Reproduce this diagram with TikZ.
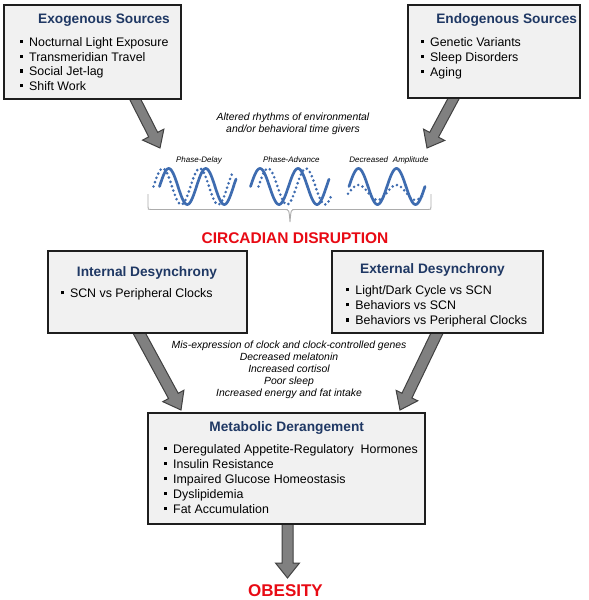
\documentclass[tikz,border=0pt]{standalone}
\usepackage{fontspec}
\setmainfont{Liberation Sans}
\usetikzlibrary{calc}
\definecolor{ttlblue}{RGB}{31,56,100}
\definecolor{redtxt}{RGB}{232,10,20}
\definecolor{wavec}{RGB}{62,108,176}
\definecolor{boxfill}{RGB}{241,241,241}
\definecolor{boxline}{RGB}{30,30,30}
\definecolor{arrfill}{RGB}{128,128,128}
\definecolor{arrline}{RGB}{64,64,64}
\newcommand\bul{\rule[3.3pt]{3.2pt}{3.2pt}\hspace{6.3pt}}
\newcommand\blockarr[5]{%
  \coordinate (ba-h) at ($(#2)!#5!(#1)$);
  \draw[arrowbody] ($(#1)!#3!90:(#2)$) -- ($(ba-h)!#3!90:(#2)$) -- ($(ba-h)!#4!90:(#2)$) -- (#2)
     -- ($(ba-h)!#4!-90:(#2)$) -- ($(ba-h)!#3!-90:(#2)$) -- ($(#1)!#3!-90:(#2)$) -- cycle;}
\tikzset{
  box/.style={draw=boxline, line width=2pt, fill=boxfill, inner sep=0pt},
  ttl/.style={font=\fontsize{13.7}{16}\selectfont\bfseries, text=ttlblue, anchor=base, inner sep=0pt},
  item/.style={font=\fontsize{12.4}{14.7}\selectfont, anchor=base west, inner sep=0pt},
  note/.style={font=\fontsize{10.4}{12.3}\selectfont\itshape, anchor=base, inner sep=0pt},
  wlabel/.style={font=\fontsize{8}{9.5}\selectfont\itshape, anchor=base, inner sep=0pt},
  bigred/.style={font=\bfseries, text=redtxt, anchor=base, inner sep=0pt},
  arrowbody/.style={fill=arrfill, draw=arrline, line width=1pt, line join=miter},
  wave/.style={draw=wavec, line width=2.7pt, line cap=round},
  dwave/.style={draw=wavec, line width=2.9pt, line cap=round, dash pattern=on 0pt off 4.6pt},
  brace/.style={draw=gray!65, line width=0.9pt}
}
\begin{document}
\begin{tikzpicture}[x=1pt,y=-1pt]
\useasboundingbox[fill=white] (0,0) rectangle (589,600);

\path (92.5,52) coordinate (exoC);
\path (494,51.5) coordinate (endoC);
\path (147.5,292) coordinate (intC);
\path (437.5,292) coordinate (extC);
\path (286.5,468.5) coordinate (metaC);

% arrows first
\coordinate (a1s) at (133,95);  \coordinate (a1e) at (160,148);
\coordinate (a2s) at (456,94);  \coordinate (a2e) at (427,148);
\coordinate (a3s) at (137,329); \coordinate (a3e) at (181,410);
\coordinate (a4s) at (439,329); \coordinate (a4e) at (400,410);
\coordinate (a5s) at (287.5,520); \coordinate (a5e) at (287.5,578);
\blockarr{a1s}{a1e}{5pt}{12pt}{15pt}
\blockarr{a2s}{a2e}{5pt}{12pt}{15pt}
\blockarr{a3s}{a3e}{5.5pt}{12pt}{16pt}
\blockarr{a4s}{a4e}{5.5pt}{12pt}{16pt}
\blockarr{a5s}{a5e}{5.5pt}{12pt}{15pt}

% boxes
\node[box, minimum width=177pt, minimum height=94pt] (exo) at (exoC) {};
\node[box, minimum width=172pt, minimum height=93pt] (endo) at (endoC) {};
\node[box, minimum width=199pt, minimum height=82pt] (int) at (intC) {};
\node[box, minimum width=211pt, minimum height=82pt] (ext) at (extC) {};
\node[box, minimum width=277pt, minimum height=111pt] (meta) at (metaC) {};

% box texts
\node[ttl] (exoT) at (104,23.3) {Exogenous Sources};
\foreach \t [count=\i] in {Nocturnal Light Exposure, Transmeridian Travel, Social Jet-lag, Shift Work}
  \node[item] (exo\i) at (19.5,{46.5+14.65*(\i-1)}) {\bul\t};

\node[ttl] (endoT) at (506.7,23.3) {Endogenous Sources};
\foreach \t [count=\i] in {Genetic Variants, Sleep Disorders, Aging}
  \node[item] (endo\i) at (420.5,{46.5+15*(\i-1)}) {\bul\t};

\node[ttl] (intT) at (147,276) {Internal Desynchrony};
\node[item] (int1) at (60.3,297.7) {\bul SCN vs Peripheral Clocks};

\node[ttl] (extT) at (432.5,273.3) {External Desynchrony};
\foreach \t [count=\i] in {Light/Dark Cycle vs SCN, Behaviors vs SCN, Behaviors vs Peripheral Clocks}
  \node[item] (ext\i) at (345.7,{294.3+15.3*(\i-1)}) {\bul\t};

\node[ttl] (metaT) at (286.7,431) {Metabolic Derangement};
\foreach \t [count=\i] in {Deregulated Appetite-Regulatory\ \ Hormones, Insulin Resistance, Impaired Glucose Homeostasis, Dyslipidemia, Fat Accumulation}
  \node[item] (meta\i) at (163.5,{453.3+15*(\i-1)}) {\bul\t};

% notes
\node[note] (alt1) at (293,120.7) {Altered rhythms of environmental};
\node[note] (alt2) at (293,132.7) {and/or behavioral time givers};

\node[wlabel] (wl1) at (199,162.7) {Phase-Delay};
\node[wlabel] (wl2) at (291.3,162.7) {Phase-Advance};
\node[wlabel] (wl3) at (389,162.7) {Decreased\hspace{0.6em}Amplitude};

% waves
\draw[dwave] plot[domain=153.5:233, samples=90] (\x,{186.5-18*sin(360/37*(\x-153.5))});
\draw[wave]  plot[domain=159.5:236, samples=90] (\x,{186.5-18*sin(360/37*(\x-159.5))});
\draw[dwave] plot[domain=258.5:332, samples=90] (\x,{186.5-18*sin(360/38*(\x-258.5))});
\draw[wave]  plot[domain=250.5:329, samples=90] (\x,{186.5-18*sin(360/38*(\x-250.5))});
\draw[dwave] plot[domain=348:423, samples=90] (\x,{192.5-7.5*sin(360/38*(\x-349))});
\draw[wave]  plot[domain=349:425, samples=90] (\x,{186.5-18*sin(360/38*(\x-349))});

% brace
\draw[brace] (148,194) -- (148,206.5) .. controls (148,209.5) .. (151,209.5) -- (285,209.5)
  .. controls (289,209.5) .. (290,222) .. controls (291,209.5) .. (295,209.5) -- (428,209.5)
  .. controls (431,209.5) .. (431,206.5) -- (431,194);

\node[bigred, font=\fontsize{15.5}{18}\selectfont\bfseries] (circ) at (295,243.3) {CIRCADIAN DISRUPTION};

\foreach \t/\yy [count=\i] in {Mis-expression of clock and clock-controlled genes/348.3, Decreased melatonin/360.3, Increased cortisol/372.3, Poor sleep/384.4, Increased energy and fat intake/396.6}
  \node[note] (mid\i) at (289,\yy) {\t};

\node[bigred, font=\fontsize{17}{20}\selectfont\bfseries] (obes) at (285.5,596) {OBESITY};
\end{tikzpicture}
\end{document}
